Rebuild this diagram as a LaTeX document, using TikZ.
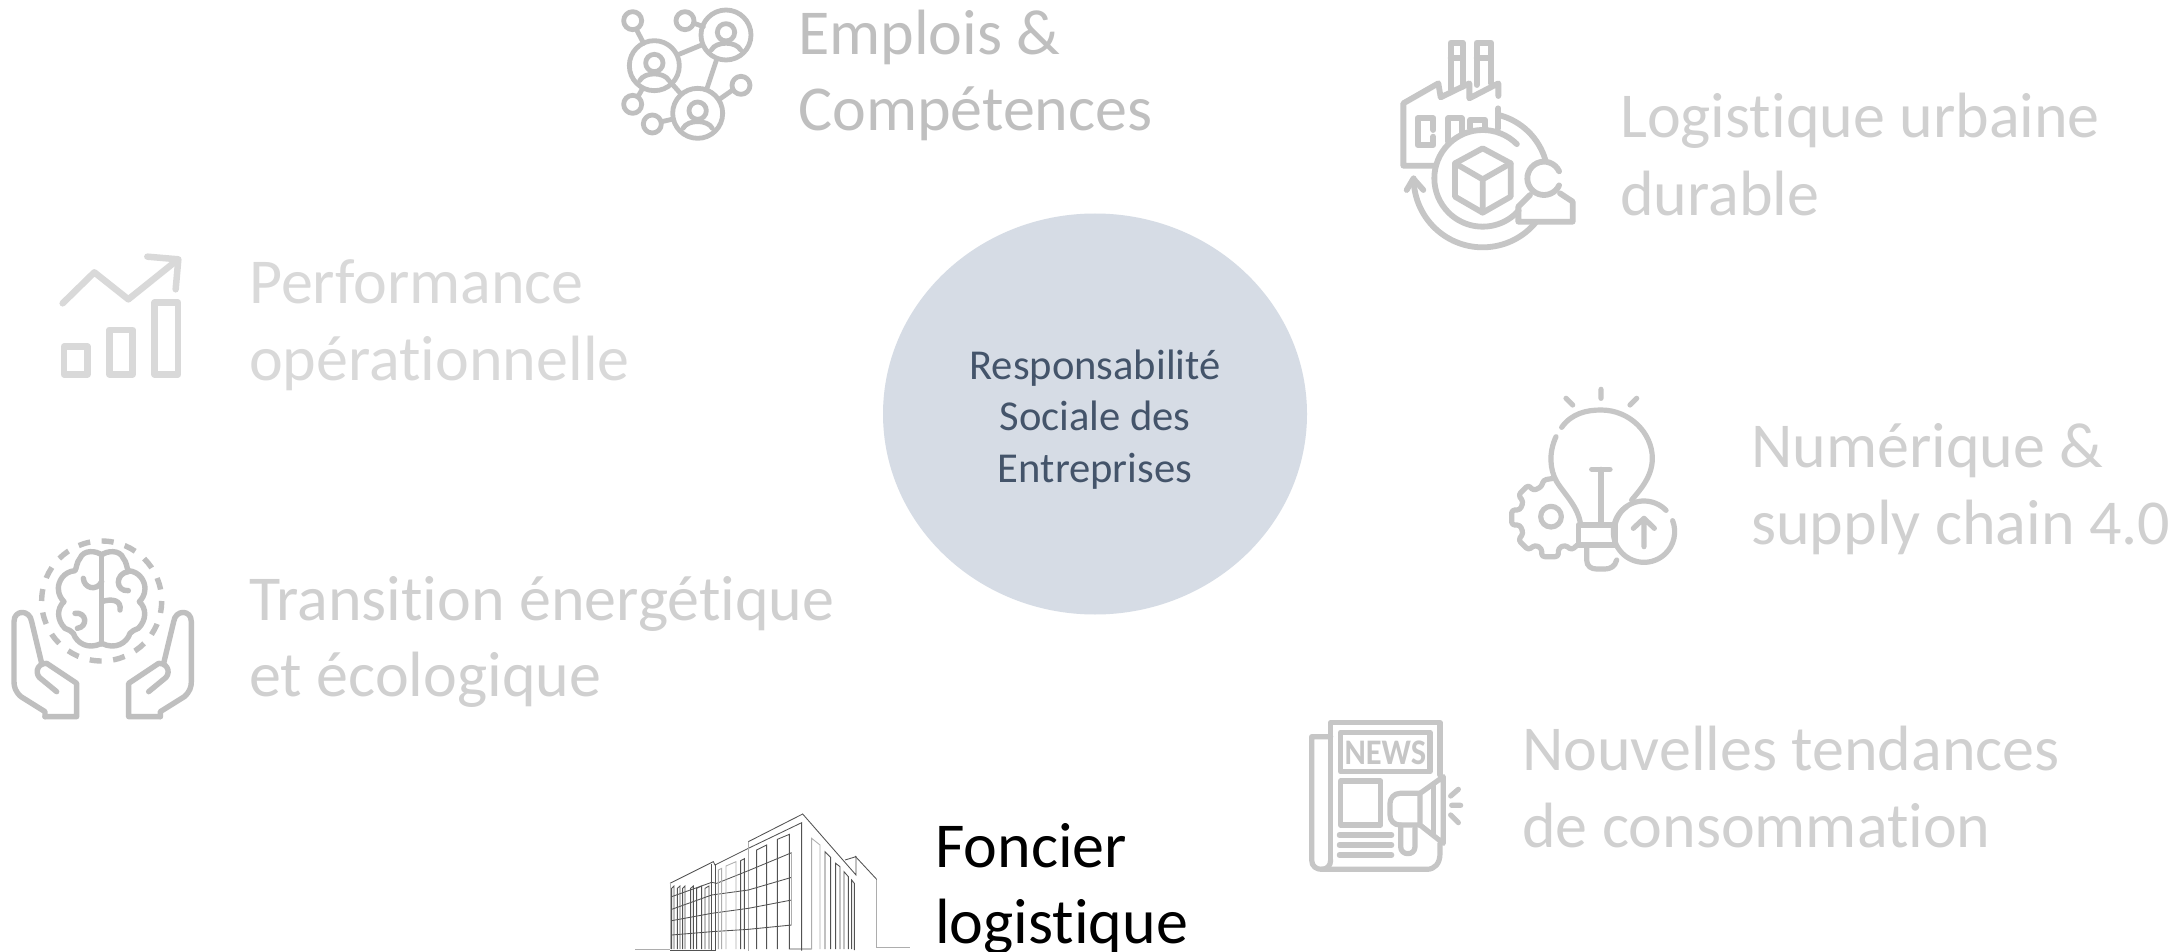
\documentclass[tikz,border=0pt]{standalone}
\usepackage{fontspec}
\setmainfont[Ligatures={NoCommon,NoRequired,NoContextual}]{Carlito}
\usetikzlibrary{shapes.geometric}
\definecolor{icA}{HTML}{BFBFBF}
\definecolor{icB}{HTML}{C6C6C6}
\definecolor{icC}{HTML}{D9D9D9}
\definecolor{txA}{HTML}{BFBFBF}
\definecolor{txB}{HTML}{D0D0D0}
\definecolor{txC}{HTML}{D9D9D9}
\definecolor{discfill}{HTML}{D6DCE5}
\definecolor{disctext}{HTML}{44546A}
\tikzset{
  label/.style={anchor=base west,inner sep=0pt,align=left,font=\fontsize{64}{77}\selectfont},
  centertext/.style={anchor=center,inner sep=0pt,align=center,text=disctext,font=\fontsize{42.6}{51.5}\selectfont},
  disc/.style={draw=none,fill=discfill},
  ic/.style={line width=5.2pt,line cap=round,line join=round},
  thin line/.style={line width=0.85pt,draw=black!68},
  pale line/.style={line width=0.85pt,draw=black!32},
  icon frame/.style={x=.33333pt,y=-.33333pt},
}
\newcommand{\personring}[2]{%
  \draw (#1,#2) circle (75);
  \draw (#1,#2-8) circle (26);
  \draw (#1-44,#2+45) .. controls (#1-30,#2+18) and (#1+30,#2+18) .. (#1+44,#2+45);
}
\begin{document}
\begin{tikzpicture}[x=1pt,y=-1pt]
\useasboundingbox (0,0) rectangle (2184,952);
\fill[white] (0,0) rectangle (2184,952);

% centre
\node[disc,ellipse,minimum width=424pt,minimum height=401pt,inner sep=0pt] (disc) at (1095,414) {};
\node[centertext] (disclabel) at (1095,419.5) {Responsabilité\\Sociale des\\Entreprises};

% labels
\node[label,text=txA] (emplois) at (798,55) {Emplois \&};
\node[label,text=txA] (emplois2) at (798,131) {Compétences};
\node[label,text=txB] (logi) at (1620,138) {Logistique urbaine};
\node[label,text=txB] (logi2) at (1620,215) {durable};
\node[label,text=txC] (perf) at (249,303) {Performance};
\node[label,text=txC] (perf2) at (249,380) {opérationnelle};
\node[label,text=txB] (num) at (1751,467) {Numérique \&};
\node[label,text=txB] (num2) at (1751,544) {supply chain 4.0};
\node[label,text=txB] (trans) at (249,620) {Transition énergétique};
\node[label,text=txB] (trans2) at (249,696) {et écologique};
\node[label,text=txB] (nouv) at (1522,770) {Nouvelles tendances};
\node[label,text=txB] (nouv2) at (1522,847) {de consommation};
\node[label,text=black] (fonc) at (935,867) {Foncier};
\node[label,text=black] (fonc2) at (935,943) {logistique};

% network icon
\begin{scope}[shift={(600,0)},icon frame,ic,line width=4.8pt,draw=icA]
  \personring{163}{197}
  \personring{378}{105}
  \personring{293}{340}
  \foreach \cx/\cy in {98/62,255/62,98/313,157/372,423/256} \draw (\cx,\cy) circle (27);
  \draw (110,90) -- (131,130);
  \draw (283,70) -- (310,80);
  \draw (232,165) -- (305,135);
  \draw (350,178) -- (320,268);
  \draw (210,245) -- (243,282);
  \draw (128,265) -- (115,288);
  \draw (185,365) -- (220,357);
  \draw (358,298) -- (398,270);
\end{scope}

% factory icon
\begin{scope}[shift={(1380,20)},icon frame,ic,line width=5.8pt,draw=icB]
  \draw (165,437) -- (70,437) -- (70,250) -- (175,190) -- (182,232) -- (268,190) -- (268,235) -- (355,190) -- (355,228);
  \draw (212,208) -- (212,68) -- (248,68) -- (248,200);
  \draw (290,195) -- (290,68) -- (333,68) -- (333,190);
  \draw (212,115) -- (248,115) (290,115) -- (333,115);
  \draw (160,330) -- (160,295) -- (113,295) -- (113,375) -- (160,375) -- (160,350);
  \draw (205,365) -- (205,295) -- (245,295) -- (245,340);
  \draw (270,325) -- (270,300) -- (315,300) -- (315,325);
  \draw (355,265) -- (355,325);
  \draw (308,475) ++(-45:145) arc[start angle=-45,end angle=-318,radius=145];
  \draw (308,475) ++(-76:196) arc[start angle=-76,end angle=-16,radius=196];
  \draw (308,475) ++(40:207) arc[start angle=40,end angle=180,radius=207];
  \draw (80,510) -- (100,476) -- (130,510);
  \draw (308,385) -- (392,430) -- (392,530) -- (308,578) -- (225,530) -- (225,430) -- cycle;
  \draw (225,430) -- (308,478) -- (392,430) (308,478) -- (308,578);
  \draw (492,475) ++(-25:50) arc[start angle=-25,end angle=-335,radius=50];
  \draw (450,525) -- (415,560) -- (415,605) -- (578,605) -- (578,545) -- (540,520);
\end{scope}

% bulb icon
\begin{scope}[shift={(1490,370)},icon frame,ic,draw=icB]
  \draw (333,58) -- (333,85) (228,85) -- (248,105) (440,85) -- (420,105);
  \draw (215,172) .. controls (245,130) and (290,120) .. (333,120) .. controls (420,120) and (487,190) .. (487,265) .. controls (487,320) and (450,360) .. (425,390);
  \draw (198,200) .. controls (175,250) and (180,300) .. (200,335) .. controls (225,375) and (265,410) .. (272,465);
  \draw (375,465) .. controls (380,440) and (395,420) .. (410,410);
  \draw (265,465) rectangle (375,525);
  \draw (305,298) -- (360,298) (333,298) -- (333,465);
  \draw (290,530) -- (290,570) .. controls (290,590) and (305,597) .. (320,597) -- (345,597) .. controls (360,597) and (375,590) .. (380,570);
  \draw (462,485) ++(-44:92) arc[start angle=-44,end angle=-381,radius=92];
  \draw (462,530) -- (462,445) (430,475) -- (462,445) -- (493,475);
  \draw (183,440) circle (31);
  \draw[rounded corners=3pt] (190,325) -- (160,330) -- (155,350) -- (130,362) -- (115,345) -- (85,375) -- (100,395) -- (90,420) -- (65,420) -- (65,465) -- (90,465) -- (100,490) -- (85,510) -- (115,540) -- (135,525) -- (155,535) -- (155,560) -- (205,560) -- (205,535) -- (225,525) -- (245,540) -- (262,525);
\end{scope}

% news icon
\begin{scope}[shift={(1290,700)},icon frame,ic,draw=icB]
  \draw (122,480) -- (122,68) -- (450,68) -- (450,225);
  \draw (122,110) -- (65,110) -- (65,480) .. controls (65,500) and (80,508) .. (95,508) -- (410,508) .. controls (435,508) and (450,490) .. (450,460) -- (450,430);
  \draw (122,480) .. controls (122,498) and (110,508) .. (95,508);
  \draw (152,97) rectangle (420,215);
  \node[inner sep=0pt,text=icB] (newsword) at (286,157) {\fontsize{36}{36}\selectfont\bfseries\scalebox{.9}[1]{NEWS}};
  \draw (152,243) rectangle (272,375);
  \draw (148,405) -- (305,405) (148,435) -- (305,435) (148,465) -- (305,465);
  \draw (390,375) -- (390,280) -- (460,230) -- (460,430) -- (390,375);
  \draw (430,255) -- (430,405);
  \draw (390,280) -- (330,280) .. controls (312,280) and (300,295) .. (300,310) -- (300,345) .. controls (300,362) and (312,375) .. (330,375) -- (390,375);
  \draw (332,375) -- (332,440) .. controls (332,468) and (375,468) .. (375,440) -- (375,385);
  \draw (482,288) -- (505,268) (485,316) -- (512,316) (482,345) -- (505,368);
\end{scope}

% brain icon
\begin{scope}[shift={(0,520)},icon frame,ic,line width=5.4pt,draw=icA]
  \draw[line cap=butt,dash pattern=on 12pt off 11.56pt] (305,243) circle (180);
  \foreach \sgn in {1,-1}{
    \begin{scope}[shift={(305,0)},xscale=\sgn]
      \draw (0,105) .. controls (-15,92) and (-55,88) .. (-65,115) .. controls (-75,125) and (-75,145) .. (-80,152) .. controls (-115,155) and (-130,185) .. (-130,205) .. controls (-130,225) and (-120,238) .. (-113,245) .. controls (-135,265) and (-135,300) .. (-110,325) .. controls (-100,330) and (-90,332) .. (-85,340) .. controls (-75,370) and (-40,390) .. (0,370);
    \end{scope}
  }
  \draw (305,105) -- (305,372);
  \draw (250,175) .. controls (252,205) and (290,215) .. (305,185);
  \draw (225,280) .. controls (260,275) and (265,320) .. (232,325);
  \draw (385,155) .. controls (345,160) and (345,215) .. (385,212);
  \draw (305,245) .. controls (335,235) and (365,240) .. (360,270);
  \foreach \sgn in {1,-1}{
    \begin{scope}[shift={(308,0)},xscale=\sgn]
      \draw (-173,590) -- (-78,590) -- (-78,490) -- (-168,430) .. controls (-200,430) and (-205,465) .. (-183,478) -- (-138,515);
      \draw (-173,590) -- (-173,575) -- (-245,530) .. controls (-262,515) and (-266,500) .. (-266,485) -- (-266,305) .. controls (-266,268) and (-218,268) .. (-213,305) -- (-183,430);
    \end{scope}
  }
\end{scope}

% chart icon
\begin{scope}[shift={(40,240)},icon frame,draw=icC,line width=6.5pt,line cap=round,line join=round]
  \draw (72,320) rectangle (142,403);
  \draw (208,270) rectangle (278,403);
  \draw (344,188) rectangle (414,403);
  \draw (68,190) -- (163,97) -- (265,178) -- (412,60);
  \draw (322,50) -- (415,58) -- (407,148);
\end{scope}

% building icon
\begin{scope}[shift={(620,800)},icon frame]
  \draw[pale line] (45,447) -- (150,447) (770,443) -- (870,443);
  \draw[pale line] (770,238) -- (770,443);
  \draw[thin line] (150,250) -- (280,185) -- (285,195) -- (385,145) -- (545,68) -- (545,452);
  \draw[thin line] (385,125) -- (548,42) -- (708,225) -- (708,170) -- (675,180);
  \draw[thin line] (705,168) -- (770,238);
  \draw[pale line] (385,125) -- (385,452) (150,250) -- (150,447);
  \draw[thin line] (275,192) -- (275,452) (285,192) -- (285,452);
  \draw[thin line] (155,290) -- (275,247) -- (290,250) -- (385,212) -- (515,158);
  \draw[thin line] (155,328) -- (275,285) -- (385,270) -- (515,232);
  \draw[thin line] (155,362) -- (275,340) -- (385,325) -- (515,300);
  \draw[thin line] (155,405) -- (275,395) -- (385,388) -- (515,375);
  \draw[thin line] (410,447) -- (410,150) -- (440,135) -- (440,447) (472,447) -- (472,118) -- (508,103) -- (508,447) -- (575,447);
  \draw[pale line] (515,158) -- (515,375);
  \draw[pale line] (575,447) -- (575,115) -- (600,135) -- (600,447);
  \draw[thin line] (615,447) -- (615,155) -- (632,172) -- (632,447) (647,447) -- (647,190) -- (660,200) -- (660,447) (672,447) -- (672,215) -- (685,230) -- (685,447) (695,447) -- (695,240) -- (703,250) -- (703,450);
  \foreach \xa/\xb in {155/162,172/180,188/195,212/220,230/245,255/267}
    \draw[thin line] (\xa,447) -- (\xa,265) -- (\xb,258) -- (\xb,447);
  \draw[pale line] (295,447) -- (295,210) -- (305,205) -- (305,447) (318,447) -- (318,198) -- (348,185) -- (348,447);
  \draw[thin line] (362,447) -- (362,182) -- (373,176) -- (373,447);
  \draw[thin line] (150,452) -- (285,452);
\end{scope}
\end{tikzpicture}
\end{document}
